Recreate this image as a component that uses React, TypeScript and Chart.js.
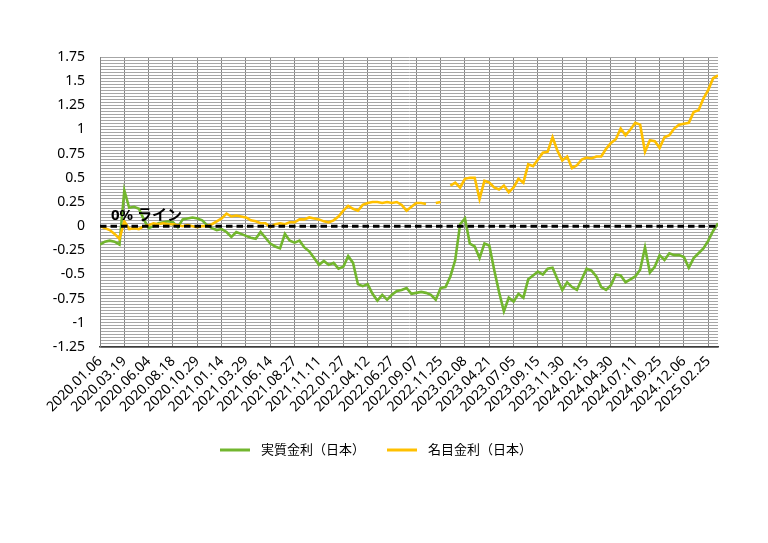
import React, { useEffect, useRef } from "react";
import { Chart, registerables } from "chart.js";

Chart.register(...registerables);

// ---- data ----
const tickDates = [
  "2020.01.06", "2020.03.19", "2020.06.04", "2020.08.18", "2020.10.29",
  "2021.01.14", "2021.03.29", "2021.06.14", "2021.08.27", "2021.11.11",
  "2022.01.27", "2022.04.12", "2022.06.27", "2022.09.07", "2022.11.25",
  "2023.02.08", "2023.04.21", "2023.07.05", "2023.09.15", "2023.11.30",
  "2024.02.15", "2024.04.30", "2024.07.11", "2024.09.25", "2024.12.06",
  "2025.02.25",
];
const pointsPerTick = 5;

const seriesNames = ["実質金利（日本）", "名目金利（日本）"];
const zeroLineLabel = "0% ライン";

// 実質金利（日本）
const realRate: (number | null)[] = [
  -0.19, -0.16, -0.15, -0.16, -0.19, 0.37, 0.19, 0.20, 0.18, 0.07,
  -0.02, 0.00, 0.03, 0.04, 0.05, 0.04, -0.01, 0.07, 0.08, 0.09,
  0.08, 0.06, 0.01, -0.02, -0.04, -0.03, -0.06, -0.11, -0.06, -0.08,
  -0.10, -0.12, -0.13, -0.06, -0.12, -0.18, -0.21, -0.23, -0.08, -0.15,
  -0.17, -0.15, -0.22, -0.26, -0.33, -0.40, -0.36, -0.40, -0.38, -0.44,
  -0.42, -0.31, -0.38, -0.60, -0.62, -0.60, -0.70, -0.77, -0.71, -0.76,
  -0.71, -0.67, -0.66, -0.64, -0.70, -0.69, -0.68, -0.69, -0.71, -0.76,
  -0.64, -0.63, -0.52, -0.35, 0.02, 0.08, -0.18, -0.21, -0.33, -0.18,
  -0.20, -0.45, -0.68, -0.88, -0.74, -0.78, -0.70, -0.74, -0.55, -0.51,
  -0.47, -0.50, -0.44, -0.43, -0.55, -0.66, -0.58, -0.63, -0.66, -0.55,
  -0.44, -0.46, -0.52, -0.63, -0.66, -0.61, -0.50, -0.51, -0.58, -0.55,
  -0.52, -0.45, -0.22, -0.48, -0.42, -0.30, -0.35, -0.28, -0.30, -0.30,
  -0.32, -0.43, -0.33, -0.28, -0.23, -0.15, -0.05, 0.03,
];

// 名目金利（日本）
const nominalRate: (number | null)[] = [
  0.00, -0.02, -0.04, -0.08, -0.13, 0.05, -0.03, -0.02, -0.03, 0.00,
  0.01, 0.03, 0.02, 0.03, 0.02, 0.02, 0.01, 0.00, 0.01, 0.00,
  -0.01, 0.00, 0.00, 0.02, 0.05, 0.08, 0.13, 0.10, 0.11, 0.10,
  0.09, 0.06, 0.05, 0.03, 0.03, -0.01, 0.02, 0.03, 0.02, 0.04,
  0.04, 0.07, 0.07, 0.09, 0.08, 0.07, 0.05, 0.04, 0.06, 0.10,
  0.16, 0.21, 0.18, 0.16, 0.22, 0.24, 0.25, 0.25, 0.24, 0.25,
  0.24, 0.25, 0.22, 0.16, 0.20, 0.24, 0.24, 0.23, null, 0.24,
  0.25, null, 0.42, 0.45, 0.40, 0.49, 0.50, 0.50, 0.28, 0.47,
  0.45, 0.40, 0.38, 0.42, 0.35, 0.40, 0.49, 0.45, 0.64, 0.62,
  0.69, 0.76, 0.77, 0.92, 0.78, 0.68, 0.72, 0.60, 0.63, 0.69,
  0.71, 0.70, 0.72, 0.72, 0.80, 0.86, 0.90, 1.01, 0.94, 1.00,
  1.07, 1.05, 0.77, 0.89, 0.88, 0.81, 0.92, 0.94, 1.01, 1.05,
  1.06, 1.07, 1.18, 1.20, 1.32, 1.41, 1.53, 1.56,
];

const yMin = -1.25;
const yMax = 1.75;
const yLabelStep = 0.25;
const yGridStep = 0.03125;

const realColor = "#72B62E";
const nominalColor = "#FFC000";
const seriesColors = [realColor, nominalColor];

const FONT = '"Noto Sans", "Noto Sans CJK JP", sans-serif';

const toXY = (arr: (number | null)[]) => arr.map((v, i) => ({ x: i, y: v }));

const overlayPlugin = {
  id: "overlay",
  afterDatasetsDraw(chart: any) {
    const { ctx, chartArea, scales } = chart;
    const y0 = scales.y.getPixelForValue(0);
    ctx.save();
    ctx.font = `bold 15px ${FONT}`;
    ctx.fillStyle = "#000";
    ctx.textBaseline = "alphabetic";
    ctx.textAlign = "left";
    ctx.fillText(zeroLineLabel, chartArea.left + 11, y0 - 6);
    ctx.restore();
  },
  afterDraw(chart: any) {
    const { ctx } = chart;
    ctx.save();
    ctx.font = `13px ${FONT}`;
    const lineW = 30;
    const gapText = 11;
    const gapItem = 22;
    const widths = seriesNames.map((n) => lineW + gapText + ctx.measureText(n).width);
    const total = widths.reduce((a, b) => a + b, 0) + gapItem * (seriesNames.length - 1);
    const cy = 450;
    let x = 376 - total / 2;
    seriesNames.forEach((name, i) => {
      ctx.strokeStyle = seriesColors[i];
      ctx.lineWidth = 3;
      ctx.beginPath();
      ctx.moveTo(x, cy);
      ctx.lineTo(x + lineW, cy);
      ctx.stroke();
      ctx.fillStyle = "#000";
      ctx.textBaseline = "middle";
      ctx.textAlign = "left";
      ctx.fillText(name, x + lineW + gapText, cy);
      x += widths[i] + gapItem;
    });
    ctx.restore();
  },
};

export default function App() {
  const ref = useRef<HTMLCanvasElement>(null);

  useEffect(() => {
    if (!ref.current) return;
    Chart.defaults.font.family = FONT;
    const n = realRate.length;
    const chart = new Chart(ref.current, {
      type: "line",
      data: {
        datasets: [
          {
            label: seriesNames[0],
            data: toXY(realRate),
            borderColor: realColor,
            backgroundColor: realColor,
            borderWidth: 2.6,
            pointRadius: 0,
            tension: 0,
            spanGaps: false,
            order: 3,
          },
          {
            label: seriesNames[1],
            data: toXY(nominalRate),
            borderColor: nominalColor,
            backgroundColor: nominalColor,
            borderWidth: 2.6,
            pointRadius: 0,
            tension: 0,
            spanGaps: false,
            order: 2,
          },
          {
            label: zeroLineLabel,
            data: realRate.map((_, i) => ({ x: i, y: 0 })),
            borderColor: "#000",
            borderWidth: 3,
            borderDash: [6.5, 4],
            pointRadius: 0,
            order: 1,
          },
        ],
      },
      options: {
        animation: false,
        responsive: false,
        layout: { padding: { top: 57, right: 50, left: 0, bottom: 96 } },
        plugins: {
          legend: { display: false },
          tooltip: { enabled: false },
        },
        scales: {
          x: {
            type: "linear",
            min: 0,
            max: n - 1,
            afterFit: (s: any) => {
              s.height = 100;
            },
            ticks: {
              stepSize: pointsPerTick,
              includeBounds: false,
              autoSkip: false,
              maxRotation: 45,
              minRotation: 45,
              padding: 6,
              color: "#000",
              font: { size: 14, family: FONT },
              callback: (v: any) => tickDates[Math.round(Number(v) / pointsPerTick)] ?? "",
            },
            grid: { color: "#868686", lineWidth: 1, drawTicks: false },
            border: { color: "#3c3c3c", width: 1.5 },
          },
          y: {
            min: yMin,
            max: yMax,
            afterFit: (s: any) => {
              s.width = 100;
            },
            ticks: {
              stepSize: yGridStep,
              autoSkip: false,
              padding: 15,
              color: "#000",
              font: { size: 14, family: FONT },
              callback: (v: any) => {
                const r = Number(v) / yLabelStep;
                if (Math.abs(r - Math.round(r)) > 1e-6) return "";
                return String(Math.round(Number(v) * 100) / 100);
              },
            },
            grid: { color: "#a6a6a6", lineWidth: 1, drawTicks: false },
            border: { color: "#868686", width: 1 },
          },
        },
      },
      plugins: [overlayPlugin],
    } as any);
    return () => chart.destroy();
  }, []);

  return (
    <div style={{ position: "absolute", left: 0, top: 0, width: 768, height: 543, background: "#fff" }}>
      <canvas ref={ref} width={768} height={543} />
    </div>
  );
}
